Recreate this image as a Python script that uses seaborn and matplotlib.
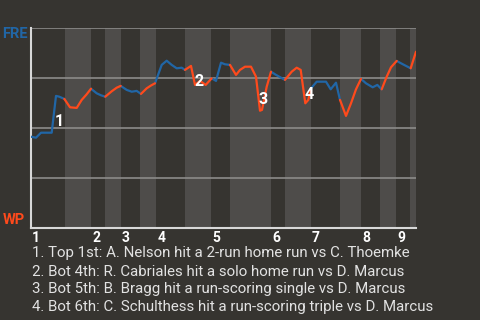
import numpy as np
import pandas as pd
import matplotlib
matplotlib.use("Agg")
import matplotlib.pyplot as plt
import seaborn as sns

# ---- data ----
# game progress (horizontal position), FRE win probability (%)
progress = [0, 5.3, 10.3, 21.0, 22.8, 25.3, 28.6, 33.6,
            39.3, 46.0, 51.0, 55.8, 60.3,
            66.0, 70.3, 74.6,
            81.0, 86.0, 90.0,
            96.0, 101.0, 106.0, 110.3,
            116.0, 120.3, 124.3,
            131.0, 136.0, 141.0, 146.0, 151.0, 154.3,
            160.3, 164.3, 169.3, 175.0, 181.0,
            185.3, 190.3, 194.3, 199.3,
            205.3, 209.3, 214.3, 220.3, 225.3, 229.3, 231.3, 236.0, 240.3,
            245.0, 249.6, 254.3,
            261.0, 266.0, 270.0, 274.6, 277.6, 280.3,
            286.0, 290.6, 295.3, 300.0, 305.3, 309.3,
            315.3, 320.3, 325.3, 330.3,
            335.3, 342.0, 346.6, 351.0,
            356.0, 360.3, 366.0,
            370.3, 375.3, 380.0,
            385.3]
fre_wp = [45.8, 45.3, 47.8, 47.8, 55.6, 66.2, 65.8, 64.7,
          60.5, 60.2, 64.2, 66.9, 69.8,
          67.5, 66.5, 65.8,
          68.5, 70.3, 71.2,
          69.2, 68.3, 68.7, 67.2,
          70.0, 71.4, 72.5,
          81.7, 83.8, 81.7, 80.0, 80.3, 79.2,
          81.2, 71.7, 73.7, 71.7, 75.0,
          73.7, 82.8, 82.0, 81.7,
          76.7, 79.2, 80.8, 80.8, 75.8, 58.8, 59.2, 70.8, 78.3,
          76.8, 75.5, 74.2,
          78.3, 80.3, 79.2, 62.5, 64.2, 70.0,
          73.3, 73.3, 73.3, 69.5, 72.8, 64.2,
          56.2, 62.5, 69.5, 74.7,
          72.5, 70.5, 71.7, 69.5,
          75.8, 80.5, 83.7,
          82.5, 81.2, 80.0,
          88.3]
# plate appearances per half-inning (top 1, bot 1, top 2, ...)
pa_per_half = [7, 5, 3, 3, 4, 3, 6, 5, 4, 9, 3, 6, 6, 4, 4, 3, 3, 1]
# start of each half-inning on the progress axis, and end of the game
half_starts = [0, 34.3, 60.3, 74.3, 90.0, 109.3, 125.3, 154.3, 180.3,
               199.3, 240.3, 254.3, 280.0, 309.3, 330.0, 349.3, 365.3, 379.3]
game_end = 385.0
inning_labels = ["1", "2", "3", "4", "5", "6", "7", "8", "9"]
marker_labels = ["1", "2", "3", "4"]
marker_x = [28.3, 168.3, 232.3, 278.3]
marker_y = [53.6, 73.6, 64.2, 67.1]
notes = [
    "1. Top 1st: A. Nelson hit a 2-run home run vs C. Thoemke",
    "2. Bot 4th: R. Cabriales hit a solo home run vs D. Marcus",
    "3. Bot 5th: B. Bragg hit a run-scoring single vs D. Marcus",
    "4. Bot 6th: C. Schulthess hit a run-scoring triple vs D. Marcus",
]
teams = ["FRE", "WP"]

# ---- styling ----
BG = "#363430"
BAND = "#4e4c4a"
BLUE = "#2166a6"
ORANGE = "#ff4a1c"
GRID = "#8c8b89"

sns.set_theme(style="dark", rc={
    "figure.facecolor": BG, "axes.facecolor": BG,
    "axes.edgecolor": "#d8d8d8", "text.color": "white",
})
plt.rcParams["font.family"] = ["Roboto", "DejaVu Sans"]

# build segments: each half-inning line starts from the previous point
rows = []
idx = 1
for h, n in enumerate(pa_per_half):
    seg = list(range(idx - 1, idx + n))
    for i in seg:
        rows.append({"progress": progress[i], "wp": fre_wp[i],
                     "half": h, "team": teams[h % 2]})
    idx += n
df = pd.DataFrame(rows)

fig = plt.figure(figsize=(4.8, 3.2), dpi=100)
ax = fig.add_axes([30.7 / 480, 1 - 228.3 / 320, 385 / 480, 200 / 320])

# bottom half-innings shaded
bounds = half_starts + [game_end]
for h in range(len(half_starts)):
    if h % 2 == 1:
        ax.axvspan(bounds[h], bounds[h + 1], color=BAND, lw=0, zorder=0)

for yv in [25, 50, 75, 100]:
    ax.axhline(yv, color=GRID, lw=1.2, zorder=1)

sns.lineplot(data=df, x="progress", y="wp", hue="team", units="half",
             estimator=None, palette={"FRE": BLUE, "WP": ORANGE},
             lw=1.6, legend=False, ax=ax, zorder=3)

for lab, mx, my in zip(marker_labels, marker_x, marker_y):
    ax.text(mx, my, lab, color="white", fontsize=11.5, fontweight="bold",
            ha="center", va="center", zorder=4)

ax.set_xlim(0, game_end)
ax.set_ylim(0, 100)
ax.set_xlabel("")
ax.set_ylabel("")
ax.set_yticks([])
ax.set_xticks([])
for s in ["top", "right"]:
    ax.spines[s].set_visible(False)
for s in ["left", "bottom"]:
    ax.spines[s].set_color("#d8d8d8")
    ax.spines[s].set_linewidth(1.5)

# inning labels, left aligned at each inning start
for k, lab in enumerate(inning_labels):
    ax.text(half_starts[2 * k] + 1.2, -1.5, lab, color="white",
            fontsize=10, fontweight="bold", ha="left", va="top",
            transform=ax.transData, clip_on=False)

fig.text(2.5 / 480, 1 - 33.5 / 320, "FRE", color=BLUE, fontsize=10.5,
         fontweight="bold", ha="left", va="center")
fig.text(2.5 / 480, 1 - 219.5 / 320, "WP", color=ORANGE, fontsize=10.5,
         fontweight="bold", ha="left", va="center")

for j, line in enumerate(notes):
    fig.text(32 / 480, 1 - (253.5 + 18 * j) / 320, line, color="#e2e2e2",
             fontsize=10.8, ha="left", va="center")

fig.savefig("out.png", dpi=100, facecolor=BG)
